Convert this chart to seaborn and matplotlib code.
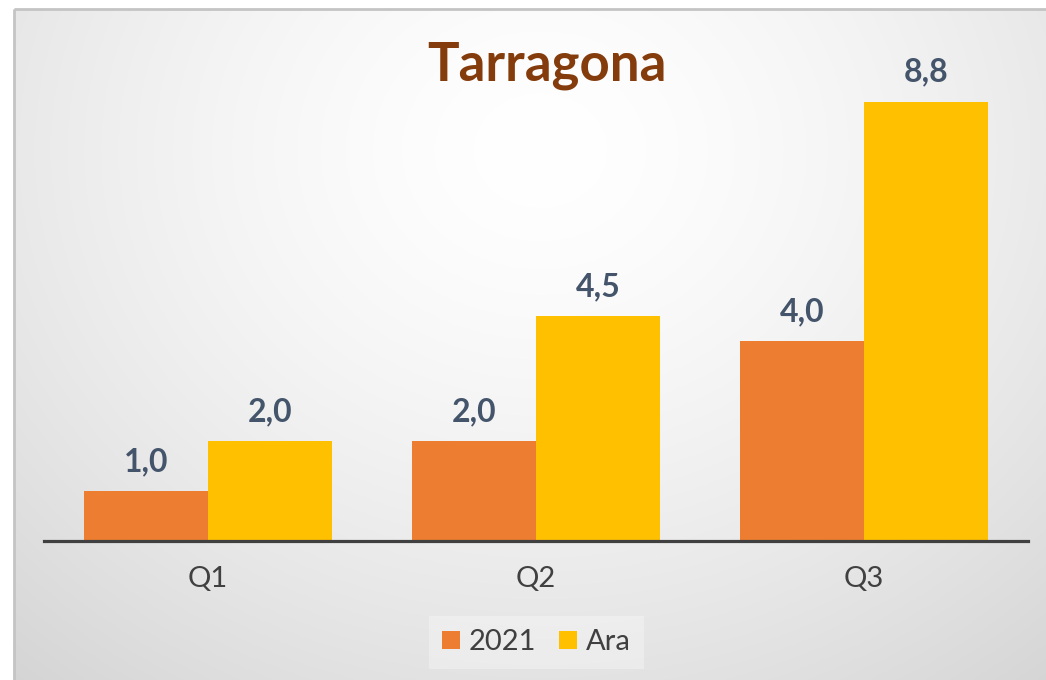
import numpy as np
import pandas as pd
import matplotlib.pyplot as plt
import seaborn as sns
from matplotlib.patches import Patch, Rectangle

plt.switch_backend('Agg')

# chart data
quarters = ['Q1', 'Q2', 'Q3']
series_names = ['2021', 'Ara']
values_2021 = [1.0, 2.0, 4.0]
values_ara = [2.0, 4.5, 8.8]

colors = {'2021': '#ED7D31', 'Ara': '#FFC000'}
label_color = '#44546A'
text_gray = '#404040'

df = pd.DataFrame({
    'Quarter': quarters * 2,
    'Serie': ['2021'] * len(quarters) + ['Ara'] * len(quarters),
    'Valor': values_2021 + values_ara,
})

sns.set_theme(style="white")
plt.rcParams['font.family'] = ['Lato', 'DejaVu Sans']

W, H = 1046, 680
fig = plt.figure(figsize=(W / 100, H / 100), dpi=100)
fig.patch.set_facecolor('white')

# --- background: soft radial gradient inside a grey frame ---
bg = fig.add_axes([0, 0, 1, 1], zorder=-2)
yy, xx = np.mgrid[0:H, 0:W]
r = np.sqrt(((xx - 540) / 720.0) ** 2 + ((yy - 150) / 620.0) ** 2)
g = 1 - 0.14 * r ** 1.5
img = np.dstack([g, g, g])
img[:9, :, :] = 1.0
img[:, :14, :] = 1.0
bg.imshow(np.clip(img, 0, 1), extent=[0, W, H, 0], aspect='auto', interpolation='bilinear')
bg.add_patch(Rectangle((14, 9), W + 20, H + 20, fill=False, edgecolor='#c4c4c4', linewidth=2))
bg.set_xlim(0, W)
bg.set_ylim(H, 0)
bg.axis('off')

# --- main bar axes ---
ax_top = 90
ax_bottom = 541
ax = fig.add_axes([44 / W, (H - ax_bottom) / H, (1028 - 44) / W, (ax_bottom - ax_top) / H])
ax.set_facecolor('none')

sns.barplot(data=df, x='Quarter', y='Valor', hue='Serie', hue_order=series_names,
            palette=colors, width=0.756, gap=0, saturation=1, legend=False,
            linewidth=0, edgecolor='none', ax=ax)

ax.set_xlim(-0.5, 2.5)
ax.set_ylim(0, (ax_bottom - ax_top) / 49.9)

for container in ax.containers:
    vals = [p.get_height() for p in container]
    ax.bar_label(container, labels=[f"{v:.1f}".replace('.', ',') for v in vals],
                 padding=11, fontsize=23, fontweight='bold', color=label_color)

for side in ['top', 'right', 'left']:
    ax.spines[side].set_visible(False)
ax.spines['bottom'].set_color(text_gray)
ax.spines['bottom'].set_linewidth(2.3)
ax.set_yticks([])
ax.set_xlabel('')
ax.set_ylabel('')
ax.tick_params(axis='x', length=0, pad=18, labelsize=21, labelcolor=text_gray)

# title
fig.text(547 / W, 1 - 66 / H, 'Tarragona', ha='center', va='center',
         fontsize=38, fontweight='bold', color='#843C0C')

# legend
handles = [Patch(facecolor=colors[s], edgecolor='none', label=s) for s in series_names]
leg = fig.legend(handles=handles, loc='center', bbox_to_anchor=(536.5 / W, 1 - 642.5 / H),
                 ncol=2, frameon=True, fontsize=21, handlelength=0.6, handleheight=0.6,
                 handletextpad=0.3, columnspacing=0.8, borderpad=0.45, fancybox=False)
leg.get_frame().set_facecolor('white')
leg.get_frame().set_alpha(0.3)
leg.get_frame().set_edgecolor('none')
for t in leg.get_texts():
    t.set_color(text_gray)

fig.savefig('out.png', dpi=100)
plt.close(fig)
